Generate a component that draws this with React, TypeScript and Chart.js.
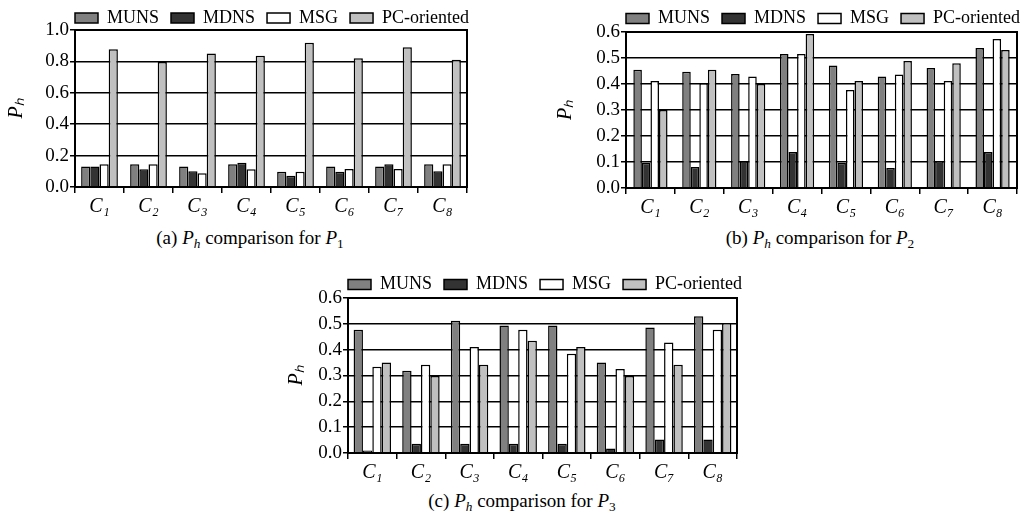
import React, { useEffect, useRef } from 'react';
import { Chart, registerables } from 'chart.js';
Chart.register(...registerables);

const categories = ['C₁', 'C₂', 'C₃', 'C₄', 'C₅', 'C₆', 'C₇', 'C₈'];
const seriesNames = ['MUNS', 'MDNS', 'MSG', 'PC-oriented'];
const seriesColors = ['#808080', '#333333', '#ffffff', '#c0c0c0'];

// (a) P1
const aMUNS = [0.13, 0.145, 0.13, 0.145, 0.097, 0.13, 0.13, 0.145];
const aMDNS = [0.13, 0.113, 0.1, 0.155, 0.072, 0.097, 0.145, 0.1];
const aMSG = [0.145, 0.145, 0.087, 0.113, 0.097, 0.115, 0.115, 0.145];
const aPC = [0.877, 0.796, 0.85, 0.836, 0.919, 0.82, 0.89, 0.81];

// (b) P2
const bMUNS = [0.455, 0.447, 0.438, 0.515, 0.471, 0.429, 0.462, 0.538];
const bMDNS = [0.097, 0.081, 0.103, 0.138, 0.097, 0.077, 0.104, 0.138];
const bMSG = [0.412, 0.403, 0.429, 0.515, 0.377, 0.437, 0.412, 0.573];
const bPC = [0.3, 0.455, 0.4, 0.592, 0.412, 0.488, 0.48, 0.531];

// (c) P3
const cMUNS = [0.477, 0.318, 0.512, 0.494, 0.494, 0.35, 0.486, 0.529];
const cMDNS = [0.01, 0.036, 0.036, 0.036, 0.036, 0.017, 0.052, 0.052];
const cMSG = [0.334, 0.342, 0.41, 0.477, 0.384, 0.325, 0.428, 0.477];
const cPC = [0.35, 0.298, 0.342, 0.435, 0.41, 0.298, 0.342, 0.503];

const yMaxA = 1.0;
const yStepA = 0.2;
const yMaxBC = 0.6;
const yStepBC = 0.1;

const FAM = '"Liberation Serif", "Times New Roman", Times, serif';
Chart.defaults.font.family = FAM;

type Spec = {
  left: number; top: number; width: number; height: number;
  chartLeft: number; chartRight: number; chartTop: number; chartBottom: number;
  titleX: number; legendY: number; yMax: number; yStep: number; catPct: number;
  series: number[][];
};

const specs: Spec[] = [
  { left: 0, top: 0, width: 475, height: 225, chartLeft: 75, chartRight: 467, chartTop: 30, chartBottom: 187,
    titleX: 17, legendY: 18, yMax: yMaxA, yStep: yStepA, catPct: 0.75, series: [aMUNS, aMDNS, aMSG, aPC] },
  { left: 480, top: 0, width: 544, height: 225, chartLeft: 626, chartRight: 1017, chartTop: 32, chartBottom: 188,
    titleX: 566, legendY: 18.5, yMax: yMaxBC, yStep: yStepBC, catPct: 0.7, series: [bMUNS, bMDNS, bMSG, bPC] },
  { left: 270, top: 260, width: 490, height: 230, chartLeft: 348, chartRight: 737, chartTop: 298, chartBottom: 453,
    titleX: 297, legendY: 284.5, yMax: yMaxBC, yStep: yStepBC, catPct: 0.77, series: [cMUNS, cMDNS, cMSG, cPC] },
];

function ChartPanel({ spec }: { spec: Spec }) {
  const ref = useRef<HTMLCanvasElement>(null);
  useEffect(() => {
    const s = spec;
    const legendPad = 12;
    const padLeft = s.titleX - 12 - s.left;
    const yWidth = s.chartLeft - (s.titleX - 12);
    const padRight = s.left + s.width - s.chartRight;
    const legendMaxH = s.chartTop - s.top;
    const xHeight = s.top + s.height - s.chartBottom;
    const rowCenter = s.legendY - s.top;

    const legendPlugin = {
      id: 'legendPos',
      afterLayout(chart: any) {
        const lg = chart.legend;
        if (!lg) return;
        lg.left = chart.chartArea.left - legendPad;
        lg.top = rowCenter - 9 - legendPad;
        lg.right = lg.left + 1200;
        lg.bottom = lg.top + 80;
      },
    };
    const framePlugin = {
      id: 'frame',
      afterDatasetsDraw(chart: any) {
        const { ctx, chartArea: a } = chart;
        ctx.save();
        ctx.strokeStyle = '#000';
        ctx.lineWidth = 2;
        ctx.strokeRect(a.left, a.top, a.right - a.left, a.bottom - a.top);
        ctx.restore();
      },
    };

    let chart: Chart | null = null;
    let cancelled = false;
    const build = () => {
      if (cancelled || !ref.current) return;
      chart = new Chart(ref.current as HTMLCanvasElement, {
        type: 'bar',
        data: {
          labels: categories,
          datasets: seriesNames.map((n, i) => ({
            label: n,
            data: s.series[i],
            backgroundColor: seriesColors[i],
            borderColor: '#000',
            borderWidth: 1.5,
            categoryPercentage: s.catPct,
            barPercentage: 1,
          })),
        },
        options: {
          animation: false,
          responsive: false,
          devicePixelRatio: 1,
          layout: { padding: { left: padLeft, right: padRight, top: 0, bottom: 0 } },
          plugins: {
            legend: {
              position: 'top',
              align: 'start',
              maxHeight: legendMaxH,
              labels: { boxWidth: 23, boxHeight: 10, padding: legendPad, color: '#000', font: { family: FAM, size: 18 } },
            },
            tooltip: { enabled: false },
          },
          scales: {
            x: {
              grid: { display: true, drawOnChartArea: false, drawTicks: true, tickLength: 6, color: '#000', lineWidth: 1.5, offset: true },
              border: { display: true, color: '#000', width: 2 },
              ticks: { color: '#000', font: { family: FAM, size: 20, style: 'italic' }, padding: 2, maxRotation: 0, autoSkip: false },
              afterFit: (sc: any) => { sc.height = xHeight; },
            },
            y: {
              min: 0,
              max: s.yMax,
              ticks: { stepSize: s.yStep, color: '#000', font: { family: FAM, size: 19 }, padding: 1, callback: (v: any) => Number(v).toFixed(1) },
              grid: { color: '#000', lineWidth: 1.5, drawTicks: true, tickLength: 5 },
              border: { display: true, color: '#000', width: 2 },
              title: { display: true, text: 'Pₕ', color: '#000', font: { family: FAM, size: 20, style: 'italic' }, padding: { top: 0, bottom: 0 } },
              afterFit: (sc: any) => { sc.width = yWidth; },
            },
          },
        } as any,
        plugins: [legendPlugin, framePlugin],
      });
    };
    const fonts: any = (document as any).fonts;
    if (fonts && fonts.load) {
      Promise.all([
        fonts.load('18px "Liberation Serif"'),
        fonts.load('italic 20px "Liberation Serif"'),
      ]).then(build, build);
    } else {
      build();
    }
    return () => {
      cancelled = true;
      if (chart) chart.destroy();
    };
  }, [spec]);
  return (
    <canvas
      ref={ref}
      width={spec.width}
      height={spec.height}
      style={{ position: 'absolute', left: spec.left, top: spec.top, width: spec.width, height: spec.height }}
    />
  );
}

const captions = [
  { label: '(a)', sub: '1', x: 250, y: 238 },
  { label: '(b)', sub: '2', x: 820, y: 238 },
  { label: '(c)', sub: '3', x: 522, y: 501 },
];

export default function App() {
  return (
    <div style={{ position: 'absolute', left: 0, top: 0, width: 1024, height: 519, background: '#fff', overflow: 'hidden' }}>
      {specs.map((s, i) => <ChartPanel key={i} spec={s} />)}
      {captions.map((c, i) => (
        <div
          key={'c' + i}
          style={{
            position: 'absolute', left: c.x, top: c.y - 11, transform: 'translateX(-50%)',
            fontFamily: FAM, fontSize: 19, lineHeight: '22px', whiteSpace: 'nowrap', color: '#000',
          }}
        >
          {c.label} <i>P</i><sub style={{ fontSize: '0.7em', verticalAlign: '-0.3em', lineHeight: 0, fontStyle: 'italic' }}>h</sub> comparison for <i>P</i><sub style={{ fontSize: '0.7em', verticalAlign: '-0.3em', lineHeight: 0 }}>{c.sub}</sub>
        </div>
      ))}
    </div>
  );
}
